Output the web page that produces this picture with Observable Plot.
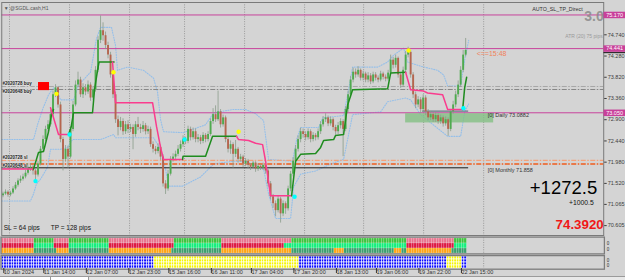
<!DOCTYPE html>
<html><head><meta charset="utf-8">
<script src="https://cdn.jsdelivr.net/npm/d3@7"></script>
<script src="https://cdn.jsdelivr.net/npm/@observablehq/plot@0.6"></script>
<style>
html,body{margin:0;padding:0;background:#d4d4d4;}
#wrap{position:relative;width:625px;height:280px;overflow:hidden;background:#d4d4d4;}
#wrap svg{position:absolute;left:0;top:0;}
#tabs{position:absolute;left:0;top:275.5px;width:625px;height:5px;background:linear-gradient(to right,#fff 0,#fff 50px,#999 50px,#999 51px,#fff 51px,#fff 88px,#999 88px,#999 89px,#e8e8e8 89px);border-top:1px solid #9a9a9a;}
</style></head><body><div id="wrap"><div id="tabs"></div></div>
<script>
const FONT = "'Liberation Sans', Arial, sans-serif";
// ---- candles (H1 bars) ----
const opens = [71.25,71.29,71.33,71.27,71.31,71.40,71.48,71.57,71.61,71.66,
71.74,71.83,71.87,71.79,71.70,71.94,72.26,72.47,72.69,72.79,
73.01,73.44,73.59,73.22,72.47,72.04,72.26,72.09,72.69,73.22,
73.65,73.76,73.44,73.59,73.50,73.65,73.37,73.55,73.97,74.62,
74.83,74.72,74.51,74.30,73.87,73.44,72.90,72.73,72.86,72.64,
72.79,72.69,72.73,72.58,72.79,72.73,72.69,72.77,72.64,72.69,
72.36,72.26,72.21,72.30,72.09,71.51,71.40,71.72,72.04,72.09,
72.15,72.26,72.36,72.47,72.43,72.69,72.51,72.64,72.47,72.51,
72.43,72.56,72.47,72.58,72.86,73.01,72.90,73.07,72.79,72.94,
72.47,72.26,72.36,72.15,72.26,72.04,72.09,71.94,72.00,71.91,
71.87,71.96,71.83,71.89,71.85,71.91,71.79,71.51,71.23,71.08,
70.93,71.18,70.86,71.08,70.97,71.40,71.72,72.00,72.26,72.47,
72.64,72.58,72.51,72.64,72.47,72.56,72.51,72.64,72.79,72.90,
72.94,72.81,72.90,72.73,72.64,72.77,72.86,72.69,73.12,73.44,
73.76,73.93,73.87,73.97,73.80,73.89,73.76,73.85,73.72,73.87,
73.80,73.76,73.89,73.82,73.78,73.91,74.19,74.08,74.23,73.87,
73.65,73.97,74.30,74.36,73.87,73.44,73.22,73.33,73.12,73.37,
73.07,72.94,73.01,72.90,72.99,72.86,72.94,72.81,72.90,72.69,
73.07,73.22,73.44,73.65,73.97,74.30];
const closes = [71.29,71.33,71.27,71.31,71.40,71.48,71.57,71.61,71.66,71.74,
71.83,71.87,71.79,71.70,71.94,72.26,72.47,72.69,72.79,73.01,
73.44,73.59,73.22,72.47,72.04,72.26,72.09,72.69,73.22,73.65,
73.76,73.44,73.59,73.50,73.65,73.37,73.55,73.97,74.62,74.83,
74.72,74.51,74.30,73.87,73.44,72.90,72.73,72.86,72.64,72.79,
72.69,72.73,72.58,72.79,72.73,72.69,72.77,72.64,72.69,72.36,
72.26,72.21,72.30,72.09,71.51,71.40,71.72,72.04,72.09,72.15,
72.26,72.36,72.47,72.43,72.69,72.51,72.64,72.47,72.51,72.43,
72.56,72.47,72.58,72.86,73.01,72.90,73.07,72.79,72.94,72.47,
72.26,72.36,72.15,72.26,72.04,72.09,71.94,72.00,71.91,71.87,
71.96,71.83,71.89,71.85,71.91,71.79,71.51,71.23,71.08,70.93,
71.18,70.86,71.08,70.97,71.40,71.72,72.00,72.26,72.47,72.64,
72.58,72.51,72.64,72.47,72.56,72.51,72.64,72.79,72.90,72.94,
72.81,72.90,72.73,72.64,72.77,72.86,72.69,73.12,73.44,73.76,
73.93,73.87,73.97,73.80,73.89,73.76,73.85,73.72,73.87,73.80,
73.76,73.89,73.82,73.78,73.91,74.19,74.08,74.23,73.87,73.65,
73.97,74.30,74.36,73.87,73.44,73.22,73.33,73.12,73.37,73.07,
72.94,73.01,72.90,72.99,72.86,72.94,72.81,72.90,72.69,73.07,
73.22,73.44,73.65,73.97,74.30,74.40];
const highs = [71.33,71.38,71.36,71.35,71.45,71.54,71.62,71.68,71.72,71.80,
71.90,71.95,71.92,71.84,71.99,72.32,72.55,72.76,72.88,73.10,
73.52,73.66,73.62,73.28,72.52,72.34,72.33,72.75,73.30,73.74,
73.93,73.82,73.68,73.66,73.74,73.70,73.62,74.05,74.70,75.15,
75.00,74.80,74.58,74.36,73.95,73.50,72.98,72.95,72.92,72.86,
72.88,72.80,72.79,72.86,72.95,72.80,72.86,72.82,72.76,72.74,
72.42,72.32,72.38,72.35,72.14,71.58,71.80,72.10,72.16,72.22,
72.34,72.44,72.55,72.52,72.76,72.74,72.72,72.70,72.58,72.56,
72.62,72.60,72.64,72.92,73.14,73.20,73.52,73.12,73.00,72.98,
72.52,72.44,72.40,72.45,72.30,72.15,72.13,72.06,72.04,71.95,
72.00,71.99,71.94,71.93,71.96,71.94,71.83,71.56,71.28,71.14,
71.24,71.22,71.14,71.12,71.46,71.78,72.08,72.34,72.55,72.72,
72.70,72.64,72.70,72.68,72.62,72.60,72.70,72.86,72.97,73.03,
72.98,72.96,72.94,72.78,72.84,72.92,72.90,73.18,73.52,73.84,
74.02,74.00,74.05,74.00,73.95,73.93,73.92,73.90,73.93,73.92,
73.85,73.95,73.93,73.87,73.97,74.30,74.25,74.30,74.26,73.92,
74.04,74.38,74.47,74.40,73.92,73.50,73.40,73.38,73.44,73.42,
73.12,73.08,73.06,73.05,73.03,73.00,72.98,72.96,72.94,73.12,
73.30,73.52,73.74,74.05,74.40,74.66];
const lows = [71.21,71.26,71.22,71.23,71.28,71.37,71.44,71.52,71.57,71.62,
71.70,71.78,71.70,71.55,71.66,71.90,72.20,72.42,72.62,72.74,
72.96,73.38,73.15,72.40,71.79,71.98,71.85,72.05,72.64,73.18,
73.60,73.38,73.36,73.42,73.45,73.30,73.32,73.50,73.92,74.55,
74.60,74.42,74.22,73.80,73.36,72.82,72.55,72.66,72.56,72.58,
72.60,72.62,72.25,72.52,72.66,72.60,72.63,72.57,72.58,72.30,
72.18,72.14,72.16,72.02,71.44,71.28,71.35,71.68,71.98,72.04,
72.10,72.20,72.30,72.36,72.38,72.44,72.46,72.40,72.40,72.36,
72.38,72.40,72.42,72.54,72.80,72.84,72.86,72.72,72.74,72.40,
72.18,72.15,71.85,72.08,71.96,71.98,71.86,71.88,71.84,71.80,
71.82,71.76,71.78,71.80,71.80,71.72,71.44,71.16,70.98,70.80,
70.88,70.66,70.80,70.85,70.92,71.34,71.66,71.95,72.20,72.40,
72.50,72.44,72.46,72.40,72.42,72.44,72.46,72.58,72.74,72.84,
72.75,72.76,72.66,72.56,72.58,72.70,72.10,72.64,73.06,73.38,
73.70,73.80,73.82,73.74,73.74,73.70,73.70,73.66,73.68,73.74,
73.70,73.72,73.76,73.72,73.74,73.86,74.00,74.02,73.80,73.58,
73.60,73.92,74.24,73.80,73.36,73.14,73.16,73.04,73.06,72.99,
72.88,72.88,72.84,72.84,72.80,72.80,72.74,72.76,72.54,72.64,
73.02,73.16,73.38,73.60,73.92,74.26];

// ---- trend (step) indicator, vertices ----
const trendDir = ["dn","up","dn","up","dn","up","dn","up","dn","up"];
const trendBars = [
 [-0.5,12.2],
 [12.2,14.2,16.2,18.2,19.4,20.2],
 [19,22.2,26.2],
 [26.2,27.2,28.2,35.8,36.6,37.8,38.4,44.4],
 [43.8,45,59.8,61.4,63,64.2,71.8],
 [71.8,72,81,83.8,93.4],
 [93.4,94.2,98.2,101,103.8,105,107,115.4],
 [115.4,117,119,125,127,128.2,132.2,133,136.2,137.8,139.8,153.8,155,161],
 [161,163,168.2,169.8,175.8,177.8,183.8],
 [183.8,184.6,185.4]];
const trendPrices = [
 [71.83,71.83],
 [71.83,72.19,72.21,72.64,73.01,73.12],
 [73.16,72.58,72.58],
 [72.58,72.73,73.05,73.05,73.55,73.97,74.15,74.15],
 [74.15,73.27,73.27,72.75,72.30,72.04,72.04],
 [72.04,72.11,72.11,72.54,72.54],
 [72.54,72.47,72.45,72.39,72.36,72.00,71.25,71.25],
 [71.25,72.00,72.15,72.17,72.30,72.45,72.47,72.56,72.58,73.22,73.55,73.57,73.91,73.93],
 [73.93,73.55,73.52,73.48,73.44,73.12,73.12],
 [73.12,73.59,73.82]];

// ---- dotted channel bands ----
const upperBars = [-0.5,12.2,13.8,15.8,18.2,20.2,21.8,23,28.2,30.2,35,37.4,39,43.4,45,45.8,49.8,56.2,60.2,61.8,63,64.2,72.2,81,84.2,91.8,97,101,104.2,106.2,115.8,117.4,119,126.2,127.8,136.2,138.2,139.8,149.8,153.8,156.2,160.2,161.8,167,173.8,176.2,177.8,183,184.6,186.2];
const upperPrices = [72.47,72.47,72.79,73.12,73.44,73.59,73.50,73.33,73.33,73.65,73.93,74.66,74.90,74.90,74.51,73.97,74.04,73.97,73.80,73.50,72.90,72.64,72.62,72.79,73.05,73.12,73.12,73.03,72.88,72.04,72.00,72.47,72.73,72.73,72.94,72.99,73.55,74.04,74.04,74.15,74.30,74.45,74.15,74.06,73.97,73.87,73.63,73.63,74.19,74.62];
const lowerBars = [-0.5,11,12.2,13.4,15,17.8,19,23,25.8,27.8,39,41,44.2,45,60.2,63,65,66.2,71.8,79,84.2,91.8,97,104.2,106.2,109,115,116.2,119,125,131,136.2,138.2,139.8,151,153.8,161,163,167,177.8,183,184.6,186.2];
const lowerPrices = [71.14,71.14,71.29,71.51,71.61,71.87,72.26,72.26,72.30,72.47,72.47,72.51,72.58,72.51,72.51,72.26,71.83,71.46,71.46,71.66,71.94,72.00,72.00,71.83,71.29,70.76,70.76,71.44,71.72,71.79,71.94,72.04,72.58,73.01,73.07,73.29,73.37,73.33,73.01,72.54,72.54,73.07,73.24];

// ---- signal dots ----
const yellowBars = [21.4,44.2,94.2,162.2], yellowPrices = [73.46,73.93,72.64,74.40];
const cyanBars = [13,26.6,72.6,116.6,184.1], cyanPrices = [71.57,72.58,72.47,71.23,73.15];

// ---- levels ----
const magentaLevels = [75.170, 74.441, 73.050];
const buyLevels = [73.620, 73.555], buyTickets = ["#2020728 buy", "#2020648 buy"];
const slLevels = [72.02, 71.94], slTickets = ["#2020728 sl", "#2020648 sl"];
const monthlyLevel = 71.858, dailyLevel = 73.0882;
const zoneBars = [161, 196.2], zonePrices = [72.83, 73.03];
const dailyBars = [167.8, 186.2], monthlyBars = [-0.5, 186.2];
const tradeBoxBars = [14.2, 18.6], tradeBoxPrices = [73.53, 73.706];
const bidPrice = 74.392;

// ---- axes ----
const yTicks = [74.740, 74.280, 73.820, 73.360, 72.900, 72.440, 71.980, 71.520, 71.065, 70.605];
const gridBars = [2.6, 26.6, 50.6, 72.6, 96.6, 120.6, 144.2, 168.2, 192.2];
const labelBars = [0, 16, 33, 50, 66, 83, 99, 116, 133, 149, 166, 183];
const labelTexts = ["10 Jan 2024","11 Jan 14:00","12 Jan 07:00","12 Jan 23:00","15 Jan 16:00","16 Jan 11:00","17 Jan 04:00","17 Jan 20:00","18 Jan 13:00","19 Jan 06:00","19 Jan 22:00","22 Jan 15:00"];

// ---- indicator panels (run starts by bar) ----
const row1Starts = [0,13,21,27,43,69,88,116,162,181];
const row2Starts = [0,13,21,27,43,69,88,113,162,181];
const rowTrend = ["dn","up","dn","up","dn","up","dn","up","dn","up"];
const row3Starts = [0,13,22,27,43,68,88,116,133,137,157,160,162,180];
const row3Trend = ["dn","up","dn","up","dn","up","dn","up","dn","up","dn","up","dn","up"];
const p2Starts = [0,61,119,178,184];
const p2State = ["blue","yellow","blue","yellow","blue"];

const N = closes.length;
const bars = closes.map((c,i)=>({i, open:opens[i], close:c, high:highs[i], low:lows[i]}));
const trendPts = trendBars.flatMap((bs,s)=>bs.map((b,k)=>({seg:s, dir:trendDir[s], x:b, y:trendPrices[s][k]})));
const upper = upperBars.map((b,k)=>({x:b, y:upperPrices[k]}));
const lower = lowerBars.map((b,k)=>({x:b, y:lowerPrices[k]}));
function expand(starts, states){const out=[];for(let k=0;k<starts.length;k++){const e=k+1<starts.length?starts[k+1]:N;for(let i=starts[k];i<e;i++)out.push({i,s:states[k]});}return out;}
const ind1Colors = {r1:{up:"#3ec43e",dn:"#e8748e"}, r2:{up:"#14f07c",dn:"#de1843"}, r3:{up:"#3d9e6d",dn:"#ffa414"}};
const cells1 = [
  ...expand(row1Starts,rowTrend).map(d=>({...d,row:"r1"})),
  ...expand(row2Starts,rowTrend).map(d=>({...d,row:"r2"})),
  ...expand(row3Starts,row3Trend).map(d=>({...d,row:"r3"}))
].map(d=>({...d, fill: ind1Colors[d.row][d.s]}));
const p2Colors = {blue:"#0c0cff", yellow:"#f6f600"};
const cells2 = ["q1","q2","q3","q4"].flatMap(r=>expand(p2Starts,p2State).map(d=>({...d,row:r,fill:p2Colors[d.s]})));
const labelMap = new Map(labelBars.map((b,k)=>[b,labelTexts[k]]));

const W=625, H=280;
const xDomain = [-0.5, 240.2];
const base = {width:W, height:H, marginLeft:1.25, marginRight:21.8, color:{type:"identity"}};
const xMax = xDomain[1];
const ticketStyle = {textAnchor:"start", fontSize:4.5, fontWeight:"bold", fill:"#1a1a1a", stroke:"#e6e6e6", strokeWidth:0.8, paintOrder:"stroke"};

const main = Plot.plot({
  ...base, marginTop:2, marginBottom:45,
  style:{background:"#d4d4d4", fontFamily:FONT},
  x:{domain:xDomain, axis:null},
  y:{domain:[70.391, 75.440], axis:null},
  marks:[
    Plot.ruleX(gridBars, {x:d=>d, stroke:"#8a8a8a", strokeDasharray:"1,1.4", strokeWidth:0.8}),
    Plot.line(upper, {x:"x", y:"y", stroke:"#94bfea", strokeDasharray:"1,1.5", strokeWidth:1.1}),
    Plot.line(lower, {x:"x", y:"y", stroke:"#94bfea", strokeDasharray:"1,1.5", strokeWidth:1.1}),
    Plot.ruleY(magentaLevels, {y:d=>d, stroke:"#c8449c", strokeWidth:1}),
    Plot.ruleY(buyLevels, {y:d=>d, stroke:(d,i)=>i===0?"#a6a6a6":"#858585", strokeDasharray:"5,1.5,1.5,1.5", strokeWidth:1}),
    Plot.ruleY(slLevels, {y:d=>d, stroke:(d,i)=>i===0?"#f2a27c":"#f05c1c", strokeDasharray:"5,1.5,1.5,1.5", strokeWidth:1.3}),
    Plot.ruleY([monthlyLevel], {y:d=>d, x1:monthlyBars[0], x2:monthlyBars[1], stroke:"#1a1a1a", strokeWidth:1}),
    Plot.rect([0], {x1:zoneBars[0], x2:zoneBars[1], y1:zonePrices[0], y2:zonePrices[1], fill:"#7fbf7f", fillOpacity:0.75}),
    Plot.ruleY([dailyLevel], {y:d=>d, x1:dailyBars[0], x2:dailyBars[1], stroke:"#6b7888", strokeWidth:1.3}),
    Plot.ruleX(bars, {x:"i", y1:"low", y2:"high", stroke:"#8a9c8a", strokeWidth:0.8}),
    Plot.ruleX(bars, {x:"i", y1:"open", y2:"close", stroke:d=>d.close>=d.open?"#4fab4f":"#b5654e", strokeWidth:1.9}),
    Plot.line(trendPts, {x:"x", y:"y", z:"seg", stroke:d=>d.dir==="up"?"#1f8c1f":"#fa3c8e", strokeWidth:1.5}),
    Plot.dot(yellowBars, {x:d=>d, y:(d,k)=>yellowPrices[k], r:2.2, fill:"#ffff00", stroke:"none"}),
    Plot.dot(cyanBars, {x:d=>d, y:(d,k)=>cyanPrices[k], r:2.2, fill:"#00ffff", stroke:"none"}),
    Plot.rect([0], {x1:tradeBoxBars[0], x2:tradeBoxBars[1], y1:tradeBoxPrices[0], y2:tradeBoxPrices[1], fill:"#ff0000"}),
    Plot.text([buyTickets[0]], {x:-0.2, y:buyLevels[0], dy:-2.6, text:d=>d, ...ticketStyle}),
    Plot.text([buyTickets[1]], {x:-0.2, y:buyLevels[1], dy:1.9, text:d=>d, ...ticketStyle}),
    Plot.text([slTickets[0]], {x:-0.2, y:slLevels[0], dy:-2.4, text:d=>d, ...ticketStyle}),
    Plot.text([slTickets[1]], {x:-0.2, y:slLevels[1], dy:1.6, text:d=>d, ...ticketStyle}),
    Plot.text(["[0] Daily 73.0882"], {x:193.8, y:dailyLevel, dy:4, text:d=>d, textAnchor:"start", fontSize:5.5, fill:"#333"}),
    Plot.text(["[0] Monthly 71.858"], {x:193.8, y:monthlyLevel, dy:2, text:d=>d, textAnchor:"start", fontSize:5.5, fill:"#333"}),
    Plot.text(["<==15:48"], {x:189.4, y:closes[N-1], dy:3, text:d=>d, textAnchor:"start", fontSize:7, fill:"#f0825a"}),
    Plot.text(["▼ @SGDL.cash,H1"], {frameAnchor:"top-left", dx:2, dy:3.5, text:d=>d, textAnchor:"start", fontSize:5, fill:"#555"}),
    Plot.text(["AUTO_SL_TP_Direct"], {frameAnchor:"top-right", dx:-21, dy:4.5, text:d=>d, textAnchor:"end", fontSize:5.3, fill:"#333"}),
    Plot.text(["3.0"], {frameAnchor:"top-right", dx:0, dy:9, text:d=>d, textAnchor:"end", fontSize:14, fontWeight:"bold", fill:"#8a8a8a", fillOpacity:0.85}),
    Plot.text(["ATR (20) 75 pips"], {frameAnchor:"top-right", dx:-1, dy:32, text:d=>d, textAnchor:"end", fontSize:5, fill:"#9a9a9a"}),
    Plot.text(["SL = 64 pips"], {frameAnchor:"bottom-left", dx:2, dy:-6, text:d=>d, textAnchor:"start", fontSize:6.5, fill:"#111"}),
    Plot.text(["TP = 128 pips"], {frameAnchor:"bottom-left", dx:49, dy:-6, text:d=>d, textAnchor:"start", fontSize:6.5, fill:"#111"}),
    Plot.text(["+1272.5"], {frameAnchor:"bottom-right", dx:-6.5, dy:-41.5, text:d=>d, textAnchor:"end", fontSize:18.5, fill:"#000"}),
    Plot.text(["+1000.5"], {frameAnchor:"bottom-right", dx:-10, dy:-31, text:d=>d, textAnchor:"end", fontSize:6.8, fill:"#111"}),
    Plot.text(["74.3920"], {frameAnchor:"bottom-right", dx:0, dy:-7, text:d=>d, textAnchor:"end", fontSize:13.3, fontWeight:"bold", fill:"#f01818"}),
    Plot.frame({stroke:"#7a7a7a", strokeWidth:1}),
    Plot.axisY(yTicks, {anchor:"right", tickSize:2.5, tickPadding:1.5, tickFormat:d=>d.toFixed(3), fontSize:5.5, color:"#3c3c3c"}),
    Plot.ruleY(magentaLevels, {y:d=>d, x1:xMax+0.1, x2:xMax+9, stroke:"#c8409a", strokeWidth:6.5}),
    Plot.ruleY([bidPrice], {y:d=>d, dy:1.8, x1:xMax+0.1, x2:xMax+9, stroke:"#111", strokeWidth:1}),
    Plot.text(magentaLevels, {y:d=>d, frameAnchor:"right", dx:2.5, text:d=>d.toFixed(3), textAnchor:"start", fontSize:5.5, fill:"#fff"})
  ]
});

const p1 = Plot.plot({
  ...base, marginTop:237.3, marginBottom:H-252.7,
  style:{background:"transparent", fontFamily:FONT},
  x:{domain:xDomain, axis:null},
  y:{type:"band", domain:["r1","r2","r3"], padding:0, axis:null},
  marks:[
    Plot.ruleX(gridBars, {x:d=>d, stroke:"#8a8a8a", strokeDasharray:"1,1.4", strokeWidth:0.8}),
    Plot.barX(cells1, {x1:d=>d.i-0.5, x2:d=>d.i+0.5, y:"row", fill:"fill", stroke:"#ffffff", strokeOpacity:0.35, strokeWidth:0.5}),
    Plot.frame({stroke:"#7d7d7d", strokeWidth:1.3, inset:-0.7}),
    Plot.text(["0"], {frameAnchor:"top-right", dx:3, dy:3.7, text:d=>d, textAnchor:"start", fontSize:4.5, fill:"#333"}),
    Plot.text(["0"], {frameAnchor:"bottom-right", dx:3, dy:-2, text:d=>d, textAnchor:"start", fontSize:4.5, fill:"#333"})
  ]
});

const p2 = Plot.plot({
  ...base, marginTop:255.8, marginBottom:12,
  style:{background:"transparent", fontFamily:FONT},
  x:{domain:xDomain},
  y:{type:"band", domain:["q1","q2","q3","q4"], padding:0, axis:null},
  marks:[
    Plot.ruleX(gridBars, {x:d=>d, stroke:"#8a8a8a", strokeDasharray:"1,1.4", strokeWidth:0.8}),
    Plot.barX(cells2, {x1:d=>d.i-0.5, x2:d=>d.i+0.5, y:"row", fill:"fill", stroke:"#ffffff", strokeWidth:0.6}),
    Plot.frame({stroke:"#7d7d7d", strokeWidth:1.3, inset:-0.7}),
    Plot.text(["0"], {frameAnchor:"top-right", dx:3, dy:2, text:d=>d, textAnchor:"start", fontSize:4.5, fill:"#333"}),
    Plot.text(["0"], {frameAnchor:"bottom-right", dx:3, dy:-2, text:d=>d, textAnchor:"start", fontSize:4.5, fill:"#333"}),
    Plot.axisX(labelBars, {anchor:"bottom", tickSize:5, tickPadding:-3.5, tickFormat:d=>labelMap.get(d), textAnchor:"start", dx:0.8, fontSize:5.5, color:"#333"})
  ]
});

const wrap = document.getElementById("wrap");
wrap.insertBefore(main, wrap.firstChild);
wrap.appendChild(p1);
wrap.appendChild(p2);
</script>
</body></html>
